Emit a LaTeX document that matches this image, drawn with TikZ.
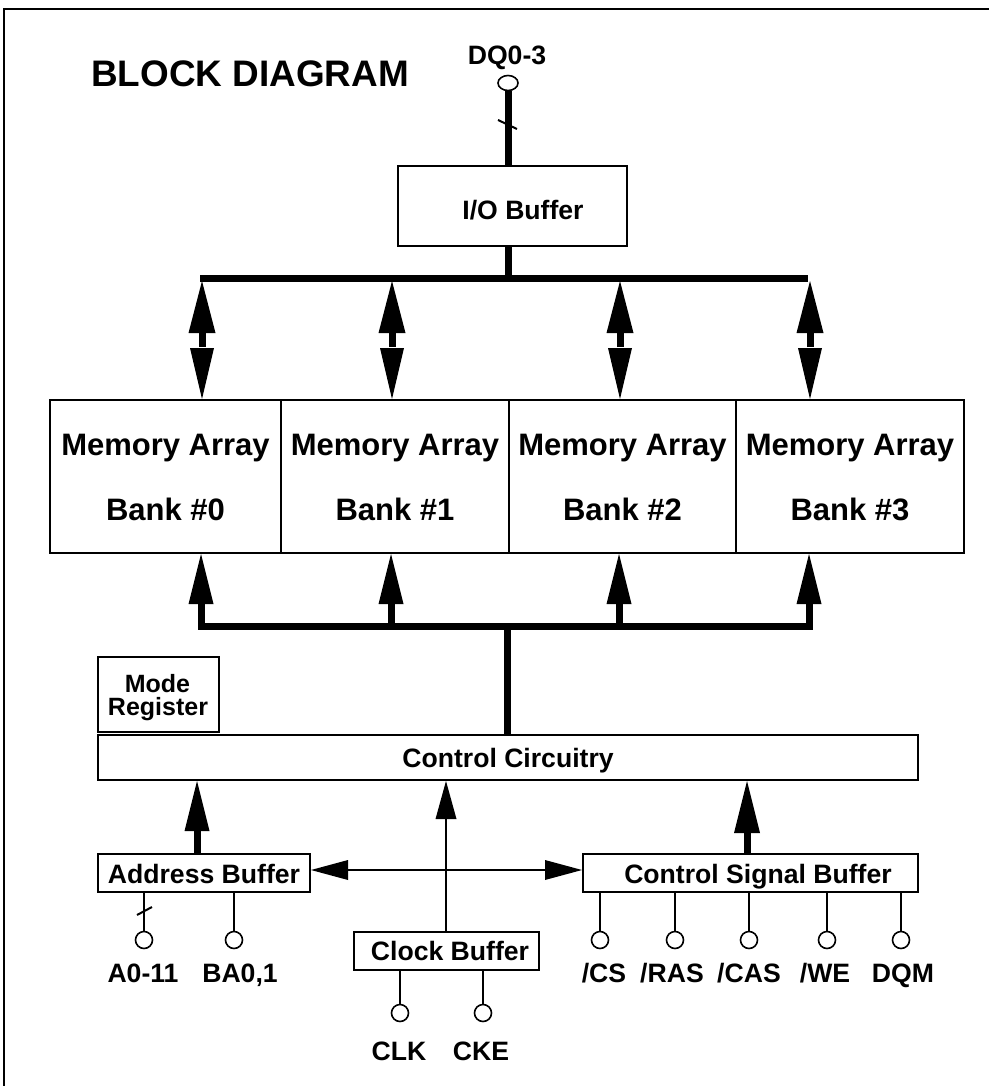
\documentclass[tikz,border=0pt]{standalone}
\usepackage{fontspec}
\setmainfont{Liberation Sans}
\usetikzlibrary{arrows.meta,calc,shapes.geometric}
\tikzset{
  box/.style={draw, line width=2pt, inner sep=0pt, fill=white},
  thinw/.style={line width=2pt},
  buswire/.style={line width=7pt},
  pinc/.style={circle, draw, line width=1.6pt, fill=white, minimum size=17pt, inner sep=0pt},
  lbl/.style={font=\fontsize{26.6}{30}\selectfont\bfseries, inner sep=0pt, anchor=base},
  bigl/.style={font=\fontsize{31}{34}\selectfont\bfseries, inner sep=0pt, anchor=base},
}
\begin{document}
\begin{tikzpicture}[x=1pt,y=-1pt]
\useasboundingbox (0,0) rectangle (989,1086);
% frame
\draw[line width=2pt] (4,1086) -- (4,9) -- (989,9);
% title
\node[font=\fontsize{36.9}{40}\selectfont\bfseries, inner sep=0pt, anchor=base] (title) at (250,87) {BLOCK DIAGRAM};
% DQ pin
\node[lbl] (dqt) at (507,64.5) {DQ0-3};
\node[ellipse, draw, line width=1.6pt, fill=white, minimum width=20pt, minimum height=15pt, inner sep=0pt] (dq) at (508,83) {};
% I/O buffer
\node[box, minimum width=229pt, minimum height=80pt] (io) at (512.5,206) {};
\node[lbl] (iot) at (523,219.5) {I/O Buffer};
\draw[buswire] (dq.south) -- (dq.south |- io.north);
\draw[thinw] (498,120) -- (517,129);
% upper bus
\coordinate (iox) at (508,278);
\draw[buswire] (iox |- io.south) -- (iox);
\coordinate (busL) at (200,278);
\coordinate (busR) at (808,278);
\draw[buswire] (busL) -- (busR);
% banks
\node[box, minimum width=231pt, minimum height=153pt] (b0) at (165.5,476.5) {};
\node[box, minimum width=228pt, minimum height=153pt] (b1) at (395,476.5) {};
\node[box, minimum width=227pt, minimum height=153pt] (b2) at (622.5,476.5) {};
\node[box, minimum width=228pt, minimum height=153pt] (b3) at (850,476.5) {};
\foreach \b/\n in {b0/0,b1/1,b2/2,b3/3}{
  \node[bigl] (\b m) at ($(\b.center)+(0,-21.5)$) {Memory Array};
  \node[bigl] (\b k) at ($(\b.center)+(0,43.5)$) {Bank \#\n};
}
% upper double arrows
\coordinate (t0) at (202,278);
\coordinate (t1) at (392,278);
\coordinate (t2) at (620,278);
\coordinate (t3) at (810,278);
\foreach \t/\b in {t0/b0,t1/b1,t2/b2,t3/b3}{
  \draw[buswire,-{Triangle[width=27pt,length=52pt,line width=0pt]}] ($(\t)+(0,69)$) -- ($(\t)+(0,3)$);
  \draw[line width=0pt,-{Triangle[width=24pt,length=51pt,line width=0pt]}] ($(\t)+(0,71)$) -- (\t |- \b.north);
}
% lower bus
\coordinate (l0) at (201,626);
\coordinate (l1) at (391,626);
\coordinate (l2) at (619,626);
\coordinate (l3) at (809,626);
\draw[buswire, line join=miter, {Triangle[width=25pt,length=50pt,line width=0pt]}-{Triangle[width=25pt,length=50pt,line width=0pt]}]
  (l0 |- b0.south) -- (l0) -- (l3) -- (l3 |- b3.south);
\draw[buswire,-{Triangle[width=25pt,length=50pt,line width=0pt]}] (l1) -- (l1 |- b1.south);
\draw[buswire,-{Triangle[width=25pt,length=50pt,line width=0pt]}] (l2) -- (l2 |- b2.south);
% mode register and control circuitry
\node[box, minimum width=121pt, minimum height=75pt] (mr) at (158.5,694.5) {};
\node[font=\fontsize{25}{23}\selectfont\bfseries, inner sep=0pt, anchor=base] (mrt) at (157.5,692) {Mode};
\node[font=\fontsize{25}{23}\selectfont\bfseries, inner sep=0pt, anchor=base] (mrt2) at (158,715) {Register};
\node[box, minimum width=820pt, minimum height=45pt] (cc) at (508,757.5) {};
\node[lbl] (cct) at (508,767) {Control Circuitry};
\coordinate (lc) at (507,626);
\draw[buswire] (lc) -- (lc |- cc.north);
% buffers
\node[box, minimum width=212pt, minimum height=38pt] (ab) at (204,873) {};
\node[lbl] (abt) at (204,883) {Address Buffer};
\node[box, minimum width=335pt, minimum height=38pt] (csb) at (750.5,873) {};
\node[lbl] (csbt) at (758,883) {Control Signal Buffer};
\node[box, minimum width=185pt, minimum height=38pt] (cb) at (446.5,951) {};
\node[lbl] (cbt) at (450,960) {Clock Buffer};
% arrows into control circuitry
\coordinate (ax) at (197,854);
\coordinate (cx) at (747,854);
\coordinate (kx) at (446,932);
\draw[buswire,-{Triangle[width=25pt,length=50pt,line width=0pt]}] (ax) -- (ax |- cc.south);
\draw[buswire,-{Triangle[width=26pt,length=52pt,line width=0pt]}] (cx) -- (cx |- cc.south);
\draw[thinw,-{Triangle[width=21pt,length=38pt,line width=0pt]}] (kx) -- (kx |- cc.south);
\draw[thinw,{Triangle[width=20pt,length=37pt,line width=0pt]}-{Triangle[width=20pt,length=37pt,line width=0pt]}]
  ($(ab.east)+(0,-3)$) -- ($(csb.west)+(0,-3)$);
% address pins
\node[pinc] (pa) at (144,940) {};
\node[pinc] (pb) at (234,940) {};
\draw[thinw] (ab.south -| pa) -- (pa.north);
\draw[thinw] (ab.south -| pb) -- (pb.north);
\draw[thinw] (137,915) -- (152,907);
\node[lbl] (pat) at (143,982) {A0-11};
\node[lbl] (pbt) at (240,982) {BA0,1};
% control signal pins
\node[pinc] (c1) at (600,940) {};
\node[pinc] (c2) at (675,940) {};
\node[pinc] (c3) at (749,940) {};
\node[pinc] (c4) at (827,940) {};
\node[pinc] (c5) at (901,940) {};
\foreach \c in {c1,c2,c3,c4,c5}{ \draw[thinw] (csb.south -| \c) -- (\c.north); }
\node[lbl] (c1t) at (604,982) {/CS};
\node[lbl] (c2t) at (672,982) {/RAS};
\node[lbl] (c3t) at (749,982) {/CAS};
\node[lbl] (c4t) at (825,982) {/WE};
\node[lbl] (c5t) at (903,982) {DQM};
% clock pins
\node[pinc] (k1) at (400,1013) {};
\node[pinc] (k2) at (483,1013) {};
\draw[thinw] (cb.south -| k1) -- (k1.north);
\draw[thinw] (cb.south -| k2) -- (k2.north);
\node[lbl] (k1t) at (399,1060) {CLK};
\node[lbl] (k2t) at (481,1060) {CKE};
\end{tikzpicture}
\end{document}
